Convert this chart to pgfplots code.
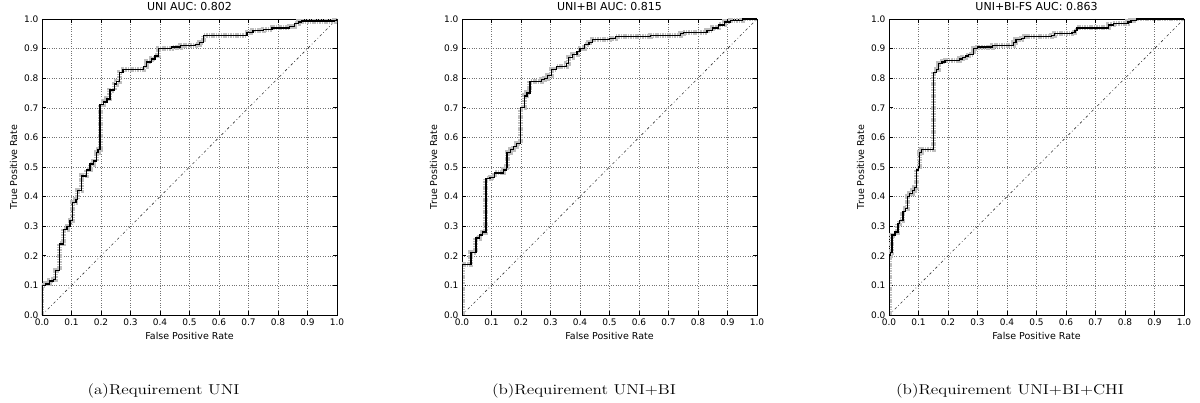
\documentclass[border=0pt]{standalone}
\usepackage{fontspec}
\usepackage{pgfplots}
\pgfplotsset{compat=1.18}
\newfontfamily\djv{DejaVu Sans}

% matplotlib-like ROC panel
\pgfplotsset{
  roc/.style={
    scale only axis, width=295pt, height=296pt,
    anchor=south west,
    xmin=0, xmax=1, ymin=0, ymax=1,
    xtick={0,0.1,...,1.0}, ytick={0,0.1,...,1.0},
    xticklabel={\pgfmathprintnumber[fixed,fixed zerofill,precision=1]{\tick}},
    yticklabel={\pgfmathprintnumber[fixed,fixed zerofill,precision=1]{\tick}},
    /pgf/number format/assume math mode=true,
    ticklabel style={font=\djv\fontsize{9}{10}\selectfont},
    label style={font=\djv\fontsize{9.5}{11}\selectfont},
    title style={font=\djv\fontsize{11}{12}\selectfont, yshift=-1pt},
    xlabel={False Positive Rate}, ylabel={True Positive Rate},
    grid=major, grid style={dotted, black!55, line width=0.5pt},
    axis line style={black, line width=0.8pt},
    tick align=inside, tick pos=both, major tick length=4pt,
    tick style={black, line width=0.6pt},
  },
  halo/.style={const plot mark left, gray!50, line width=5pt, dash pattern=on 1.6pt off 0.8pt},
  curve/.style={const plot mark left, black, line width=1.3pt},
  diag/.style={black!80, line width=0.6pt, dash pattern=on 2.5pt off 2.5pt on 0.7pt off 2.5pt},
}

\pgfplotstableread{
f t
0 0
0 0.10
0.012 0.105
0.025 0.115
0.038 0.12
0.045 0.15
0.059 0.24
0.073 0.29
0.085 0.30
0.095 0.32
0.103 0.38
0.115 0.39
0.12 0.42
0.135 0.47
0.15 0.49
0.163 0.51
0.175 0.52
0.185 0.55
0.19 0.56
0.197 0.71
0.208 0.72
0.22 0.73
0.23 0.76
0.245 0.78
0.252 0.79
0.262 0.82
0.275 0.83
0.343 0.84
0.355 0.855
0.37 0.865
0.383 0.875
0.394 0.90
0.44 0.905
0.47 0.91
0.52 0.915
0.535 0.92
0.547 0.945
0.695 0.955
0.715 0.96
0.75 0.965
0.78 0.97
0.84 0.975
0.857 0.985
0.87 0.99
0.88 0.993
0.99 0.995
1.0 1.0
}\rocuni

\pgfplotstableread{
f t
0 0
0 0.17
0.03 0.21
0.047 0.26
0.06 0.27
0.069 0.28
0.081 0.46
0.095 0.465
0.11 0.48
0.14 0.49
0.15 0.50
0.153 0.55
0.165 0.56
0.174 0.57
0.185 0.58
0.198 0.70
0.213 0.74
0.22 0.75
0.23 0.79
0.27 0.795
0.28 0.80
0.29 0.81
0.303 0.83
0.32 0.84
0.354 0.85
0.36 0.87
0.375 0.88
0.39 0.89
0.40 0.90
0.415 0.915
0.43 0.92
0.442 0.93
0.50 0.935
0.52 0.94
0.64 0.945
0.741 0.95
0.75 0.955
0.83 0.96
0.85 0.97
0.87 0.98
0.89 0.99
0.91 0.995
0.951 1.0
1.0 1.0
}\rocbi

\pgfplotstableread{
f t
0 0
0 0.20
0.005 0.21
0.01 0.27
0.02 0.28
0.03 0.31
0.035 0.32
0.047 0.35
0.055 0.36
0.063 0.40
0.07 0.41
0.08 0.42
0.086 0.43
0.093 0.49
0.10 0.50
0.104 0.55
0.11 0.56
0.151 0.82
0.16 0.83
0.168 0.85
0.18 0.855
0.19 0.86
0.24 0.865
0.25 0.87
0.26 0.875
0.27 0.88
0.287 0.90
0.30 0.905
0.35 0.91
0.422 0.92
0.43 0.93
0.45 0.935
0.46 0.94
0.55 0.945
0.56 0.95
0.62 0.955
0.63 0.96
0.637 0.97
0.744 0.98
0.76 0.985
0.81 0.99
0.82 0.995
0.84 1.0
1.0 1.0
}\rocchi

\begin{document}
\begin{tikzpicture}
\useasboundingbox (0,0) rectangle (1200pt,403pt);

\begin{axis}[roc, at={(42pt,88pt)}, title={UNI AUC: 0.802}]
\addplot[diag] coordinates {(0,0) (1,1)};
\addplot[halo] table[x=f,y=t] {\rocuni};
\addplot[curve] table[x=f,y=t] {\rocuni};
\end{axis}

\begin{axis}[roc, at={(462pt,88pt)}, title={UNI+BI AUC: 0.815}]
\addplot[diag] coordinates {(0,0) (1,1)};
\addplot[halo] table[x=f,y=t] {\rocbi};
\addplot[curve] table[x=f,y=t] {\rocbi};
\end{axis}

\begin{axis}[roc, at={(889pt,88pt)}, title={UNI+BI-FS AUC: 0.863}]
\addplot[diag] coordinates {(0,0) (1,1)};
\addplot[halo] table[x=f,y=t] {\rocchi};
\addplot[curve] table[x=f,y=t] {\rocchi};
\end{axis}

\node[anchor=base] at (163.5pt,8pt) {\scalebox{1.2}[1]{\fontsize{14.3}{17}\selectfont (a)Requirement UNI}};
\node[anchor=base] at (584pt,8pt) {\scalebox{1.2}[1]{\fontsize{14.3}{17}\selectfont (b)Requirement UNI+BI}};
\node[anchor=base] at (1010pt,8pt) {\scalebox{1.2}[1]{\fontsize{14.3}{17}\selectfont (b)Requirement UNI+BI+CHI}};
\end{tikzpicture}
\end{document}
